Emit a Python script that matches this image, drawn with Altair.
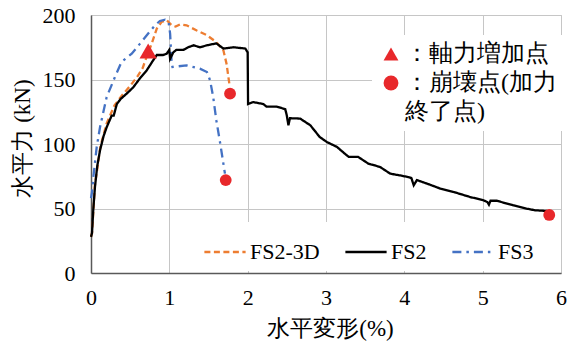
import altair as alt
import pandas as pd

# ---- data ----
series_names = ["FS2-3D", "FS2", "FS3"]
series_colors = ["#ED7D31", "#000000", "#4472C4"]

fs2_x = [0, 0.013, 0.03, 0.051, 0.08, 0.115, 0.16, 0.2, 0.264, 0.29, 0.33, 0.38, 0.455,
         0.54, 0.626, 0.71, 0.795, 0.84, 0.92, 0.966, 1.0, 1.01, 1.05, 1.09, 1.18, 1.24,
         1.31, 1.39, 1.48, 1.6, 1.69, 1.82, 1.97, 2.0, 2.005, 2.07, 2.2, 2.24, 2.37, 2.48,
         2.5, 2.52, 2.54, 2.67, 2.8, 2.92, 3.01, 3.14, 3.24, 3.29, 3.41, 3.54, 3.69, 3.82,
         3.94, 4.05, 4.09, 4.12, 4.16, 4.29, 4.46, 4.63, 4.84, 5.01, 5.06, 5.08, 5.1, 5.18,
         5.39, 5.56, 5.67, 5.82]
fs2_y = [28, 31, 50, 67, 83, 95, 106, 113, 122, 122, 131, 135, 139,
         144, 151, 157, 165, 169, 169, 170, 173, 166, 171, 173, 173, 175,
         176.5, 175, 176.5, 178, 174, 175, 174, 171, 131, 132.5, 131, 129, 129, 127,
         122, 114.5, 120, 119.7, 114.5, 105.4, 101.6, 97.7, 92.5, 90, 90, 84.8, 82.2, 77,
         75.7, 74.4, 73.6, 68, 72, 69.3, 65.4, 62.8, 58.9, 56.4, 55, 53, 56, 56,
         52.5, 49.9, 48.6, 48.1]

fs23d_x = [0, 0.013, 0.05, 0.12, 0.2, 0.3, 0.4, 0.5, 0.6, 0.66, 0.71, 0.775, 0.84, 0.9,
           0.966, 1.03, 1.08, 1.14, 1.22, 1.35, 1.48, 1.6, 1.69, 1.73, 1.77]
fs23d_y = [28, 31, 68, 98, 116, 130, 138, 145, 153, 159, 167.5, 177.8, 189.5, 194.6,
           196, 192, 191, 192.8, 192, 188, 184.3, 179, 172.6, 162.3, 145]

fs3_x = [0, 0.013, 0.03, 0.073, 0.115, 0.2, 0.306, 0.39, 0.52, 0.626, 0.73, 0.817, 0.88,
         0.945, 0.99, 1.01, 1.03, 1.04, 1.22, 1.39, 1.48, 1.52, 1.56, 1.6, 1.65, 1.69, 1.71]
fs3_y = [58, 62.8, 74.4, 97.7, 113, 136.4, 152, 163.6, 170, 177.8, 185.6, 192, 195.4,
         196.4, 194.6, 185.6, 162.3, 159.7, 161, 158.4, 155.8, 149.4, 136.4, 118.4, 100.3,
         84.8, 77]

marker_labels = ["：軸力増加点", "：崩壊点(加力", "　終了点)"]
tri_x = [0.73]
tri_y = [172]
circ_x = [1.775, 1.72, 5.85]
circ_y = [139, 72, 45]

x_ticks = [0, 1, 2, 3, 4, 5, 6]
y_ticks = [0, 50, 100, 150, 200]

# ---- tables ----
rows = []
for name, xs, ys in [("FS2-3D", fs23d_x, fs23d_y), ("FS2", fs2_x, fs2_y), ("FS3", fs3_x, fs3_y)]:
    for i, (a, b) in enumerate(zip(xs, ys)):
        rows.append({"s": name, "x": a, "y": b, "o": i})
lines = pd.DataFrame(rows)

pts = pd.DataFrame(
    [{"x": a, "y": b, "m": marker_labels[0]} for a, b in zip(tri_x, tri_y)]
    + [{"x": a, "y": b, "m": marker_labels[1]} for a, b in zip(circ_x, circ_y)]
)

SERIF = "Liberation Serif"
RED = "#E8282B"

xs = alt.Scale(domain=[0, 6], nice=False)
ys = alt.Scale(domain=[0, 200], nice=False)

x_enc = alt.X("x:Q", scale=xs, axis=alt.Axis(values=x_ticks, title="水平変形(%)",
              titleX=239, titleY=55, titleBaseline="middle", titleAlign="center",
              labelPadding=14, labelFlush=False, labelFont=SERIF, titleFont=SERIF))
y_enc = alt.Y("y:Q", scale=ys, axis=alt.Axis(values=y_ticks, title="水平力 (kN)",
              titleX=-69, titleY=123, titleAngle=-90, titleBaseline="middle",
              titleAlign="center", labelPadding=16, labelFlush=False,
              labelFont=SERIF, titleFont=SERIF))

color_enc = alt.Color("s:N", scale=alt.Scale(domain=series_names, range=series_colors),
                      legend=alt.Legend(orient="none", legendX=104, legendY=207,
                                        direction="horizontal", fillColor="white",
                                        padding=8, symbolType="stroke", symbolSize=1700,
                                        symbolStrokeWidth=2.5, labelFontSize=22,
                                        labelFont=SERIF, labelColor="black",
                                        labelOffset=3, columnPadding=20, title=None))
dash_enc = alt.StrokeDash("s:N", scale=alt.Scale(domain=series_names,
                          range=[[6, 3.5], [1, 0], [9, 5, 2.5, 5]]), legend=None)

base = alt.Chart(lines)

def series_layer(name):
    return base.transform_filter(alt.datum.s == name).mark_line(strokeWidth=2.3).encode(
        x=x_enc, y=y_enc, color=color_enc, strokeDash=dash_enc, order="o:Q")

shape_enc = alt.Shape("m:N", scale=alt.Scale(domain=marker_labels,
                      range=["triangle-up", "circle", "M0,0Z"]),
                      legend=alt.Legend(orient="none", legendX=281, legendY=20,
                                        fillColor="white", padding=7, symbolSize=220,
                                        symbolFillColor=RED, symbolStrokeColor=RED,
                                        symbolStrokeWidth=0, labelFontSize=24,
                                        labelFont=SERIF, labelColor="black",
                                        labelOffset=2, rowPadding=5, title=None))

tri = alt.Chart(pts).transform_filter(alt.datum.m == marker_labels[0]).mark_point(
    filled=True, opacity=1, color=RED, size=300).encode(x=x_enc, y=y_enc, shape=shape_enc)
circ = alt.Chart(pts).transform_filter(alt.datum.m == marker_labels[1]).mark_point(
    filled=True, opacity=1, color=RED, size=140).encode(x=x_enc, y=y_enc, shape=shape_enc)

chart = alt.layer(series_layer("FS2-3D"), series_layer("FS3"), series_layer("FS2"),
                  tri, circ).properties(
    width=470, height=258,
    autosize=alt.AutoSizeParams(type="none"),
    padding={"left": 91, "top": 15, "right": 8, "bottom": 68},
    background="white",
).configure_view(stroke="#bfbfbf", strokeWidth=1).configure_axis(
    domainColor="#595959", domainWidth=1.5, gridColor="#c6c6c6", gridWidth=1,
    ticks=False, labelFontSize=22, labelColor="black",
    titleFontSize=23, titleFontWeight="normal", titleColor="black",
)

chart.save("out.html", embed_options={"renderer": "svg", "actions": False})
